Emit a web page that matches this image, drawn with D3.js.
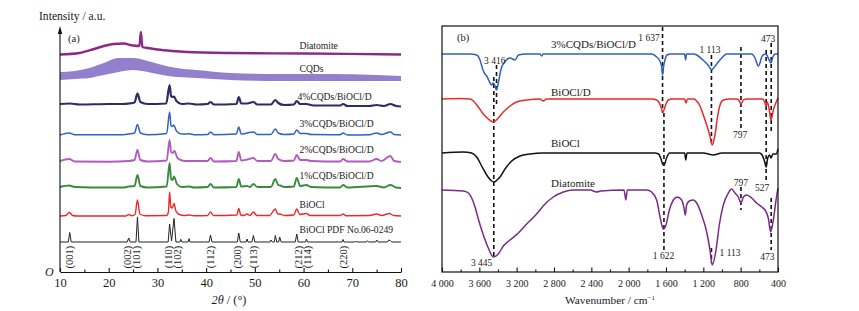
<!DOCTYPE html>
<html><head><meta charset="utf-8">
<script src="https://cdn.jsdelivr.net/npm/d3@7"></script>
<style>
body{margin:0;background:#fff}
svg{display:block}
text{font-family:"Liberation Serif","Times New Roman",serif;fill:#1a1a1a}
</style>
</head><body>
<svg id="c" width="859" height="311" font-family="Liberation Serif, serif"></svg>
<script>
// ---------------- XRD (panel a) data ----------------
const xrdTicks = [10, 20, 30, 40, 50, 60, 70, 80];
const xrdMinorTicks = [15, 25, 35, 45, 55, 65, 75];
const xrdNames = ["Diatomite", "CQDs", "4%CQDs/BiOCl/D", "3%CQDs/BiOCl/D", "2%CQDs/BiOCl/D", "1%CQDs/BiOCl/D", "BiOCl", "BiOCl PDF No.06-0249"];
const xrdOffsets = [218, 192, 165, 137, 110, 84, 56, 30];

const xrdDiatomite = [[10,-0.5],[14,1],[17,5],[19,8],[21,10],[23,10.5],[25,8.5],[26.3,8],[26.6,22],[26.9,7],[28,6],[30,4.5],[33,3],[36,2],[45,1],[60,0.5],[80,-0.5]];
const cqdsTheta = [10,13,16,19,22,25,28,31,34,38,45,55,65,75,80];
const cqdsUpper = [8,9,12,17,22,22,19,15,12,10,7,6,6,5,4];
const cqdsLower = [0,1,2,5,8,10,8,5,3,2,0,-1,-1,-1,-1];
const xrd4 = [[10,3],[12,3.5],[14,2.5],[20,3],[23,3],[24.1,3.5],[25.3,4.5],[25.9,13.5],[26.5,5],[28,3],[31.8,3.5],[32.5,22],[32.8,11],[33.1,10],[33.4,10.5],[33.9,6],[35,3],[36.5,3.5],[38,2.5],[40.3,3],[40.9,5],[41.6,2.5],[46.2,3],[46.7,10],[47.2,3.5],[48.4,3.5],[49.7,5],[50.5,2.5],[53.3,2.5],[54.2,7],[54.8,4],[56,2],[58,2.5],[58.6,6],[59.3,3],[60.6,3],[62,1.5],[67.5,1.5],[68.1,3],[69,1],[73.5,1],[75,2],[76.5,1],[77.8,3],[79,1],[80,0.5]];
const xrd3 = [[10,0],[11.9,2],[13,0.3],[23,0.3],[24.1,1],[25.3,2],[25.9,10.5],[26.5,2],[28,0.3],[31.9,1.5],[32.5,23],[32.8,9],[33.05,8.5],[33.35,10],[33.9,4],[35,1],[36.5,1.2],[37.5,0.3],[40.3,0.5],[40.9,3],[41.6,0.3],[46.2,1],[46.7,8],[47.2,1],[48.4,2],[49.7,3],[50.5,0.5],[53.3,0.5],[54.2,6],[54.8,2],[56,0.5],[58,1],[58.6,5],[59.3,1.5],[60.6,1.5],[61.5,0.5],[67.5,0.3],[68.1,2],[69,0],[73.5,0.3],[75,2],[76,0.5],[77.8,3],[78.6,0.5],[80,0]];
const xrd2 = [[10,1],[11.9,3],[13,0.5],[20,0.3],[24.1,1],[25.3,2],[25.9,12],[26.5,2],[28,0.5],[31.9,1.5],[32.5,22],[32.8,10],[33.1,9],[33.5,11],[34.1,4],[35.5,1],[36.5,1],[40.3,1],[40.9,4],[41.6,0.5],[46.2,1],[46.7,10],[47.2,1.5],[48.4,2.5],[49.7,4],[50.5,1],[53.3,1],[54.2,8],[54.8,3],[56,1],[58,1.5],[58.6,7],[59.3,2],[60.6,2],[61.5,1],[67.5,0.5],[68.1,3],[69,0.5],[73.5,0.5],[75,3],[76,1],[77.8,6],[78.6,1],[80,0]];
const xrd1 = [[10,1],[11.9,2.5],[13,1],[20,0.5],[23,0.5],[24.1,1.5],[25.3,2],[25.9,13],[26.5,2],[28,0.5],[31.9,1.5],[32.5,25],[32.8,9],[33.1,8],[33.4,11.5],[34,4],[35,1],[36.5,1.5],[37.5,0.5],[40.3,1],[40.9,4],[41.6,0.5],[46.2,1],[46.7,9],[47.2,1.5],[48.4,2],[49,1],[49.7,4],[50.5,1],[53.3,1],[54.2,9],[54.8,3],[55.2,2.5],[56,1],[58,1.5],[58.6,10],[59.3,2],[60.6,3],[61.5,1],[67.5,0.5],[68.1,3],[69,0.5],[75,2],[76.5,0.5],[77.8,3],[79,0.5],[80,0]];
const xrdBiOCl = [[10,0],[11.2,0.5],[11.9,3.5],[12.6,0.5],[13.5,0],[23.5,0],[24.1,1.5],[24.7,0.3],[25.4,1.5],[25.9,16],[26.4,2],[27.5,0.3],[31.9,0.5],[32.25,4],[32.5,24],[32.75,9],[33.05,8],[33.4,12.5],[33.8,5],[34.5,1.5],[35.5,0.5],[36.5,1],[37.5,0.3],[40.3,0.5],[40.9,4],[41.5,0.5],[46.3,1],[46.7,7.5],[47.1,1],[47.8,0.5],[48.4,2],[49.0,0.5],[49.7,4],[50.4,0.5],[53.0,0.5],[54.2,7],[54.7,2],[55.1,2],[56,0.5],[58.0,1],[58.6,7],[59.2,1.5],[60.6,2.5],[61.3,0.5],[67.5,0.5],[68.1,2],[68.7,0.3],[73.5,0.5],[75,2],[76,0.5],[77.6,2.5],[78.5,0.5],[80,0]];
const xrdPDF = [[10,0],[11.7,0],[12.0,9.5],[12.3,0],[23.8,0],[24.1,4],[24.4,0],[25.6,0],[25.9,25],[26.2,0],[32.2,0],[32.5,18],[32.9,1],[33.4,23.5],[33.8,0],[34.6,0],[34.8,2.7],[35.0,0],[36.3,0],[36.5,3.4],[36.7,0],[40.6,0],[40.9,7],[41.2,0],[46.4,0],[46.7,9],[47.0,0],[48.2,0],[48.4,3],[48.6,0],[49.4,0],[49.7,6.5],[50.0,0],[53.1,0],[53.3,2],[53.6,0],[54.0,0],[54.2,6.5],[54.5,0],[54.9,0],[55.1,5],[55.4,0],[58.3,0],[58.6,8],[58.9,0],[60.4,0],[60.6,3],[60.8,0],[67.9,0],[68.1,2.5],[68.3,0],[70.5,0],[70.7,1],[70.9,0],[72.8,0],[73.1,1],[73.4,0],[74.8,0],[75.0,2],[75.3,0],[77.2,0],[77.5,2],[77.8,1.5],[78.1,0],[80,0]];
const hklLabels = ["(001)","(002)","(101)","(110)","(102)","(112)","(200)","(113)","(212)","(114)","(220)"];
const hklPos = [12.0, 23.9, 25.8, 32.3, 34.1, 40.9, 46.4, 49.7, 59.0, 60.9, 68.2];

// ---------------- FTIR (panel b) data ----------------
const ftirTicks = [4000, 3600, 3200, 2800, 2400, 2000, 1600, 1200, 800, 400];
const ftirMinorTicks = [3800, 3400, 3000, 2600, 2200, 1800, 1400, 1000, 600];
const ftirNames = ["3%CQDs/BiOCl/D", "BiOCl/D", "BiOCl", "Diatomite"];
const ftirOffsets = [218, 173, 119, 82];
const ftir3 = [[4000,0],[3700,0],[3628,-1],[3593,-6],[3561,-16],[3540,-20],[3521,-22],[3500,-26],[3470,-31],[3450,-29],[3432,-32],[3416,-36],[3395,-28],[3370,-16],[3330,-8],[3270,-4],[3218,-6],[3180,-1],[3100,0],[2950,0],[2932,-2],[2915,0],[1800,0],[1753,0],[1700,-3],[1660,-8],[1646,-13],[1637,-21],[1625,-12],[1611,-6],[1589,-1],[1550,0],[1400,0],[1390,-6],[1380,0],[1300,0],[1271,-1],[1204,-6],[1160,-10],[1129,-14],[1113,-16],[1090,-14],[1057,-10],[1003,-4],[950,0],[700,0],[682,0],[646,-4],[611,-12],[590,-8],[575,-3],[539,0],[520,-1],[504,-4],[478,-9],[450,-2],[430,0],[400,0]];
const ftirBiOClD = [[4000,0],[3800,0.5],[3700,0],[3664,-2],[3611,-8],[3557,-15],[3504,-20],[3450,-23],[3397,-19],[3343,-13],[3271,-7],[3200,-3],[3093,-1],[2950,0],[2915,-2],[2880,0],[1750,0],[1700,-1],[1657,-7],[1635,-13],[1600,-5],[1575,-1],[1540,0],[1400,0],[1386,-4],[1370,0],[1300,0],[1271,-2],[1236,-7],[1200,-16],[1164,-26],[1129,-37],[1105,-46],[1075,-36],[1050,-19],[1021,-6],[986,-1],[914,0],[840,0],[814,-2],[797,-5],[771,-1],[740,0],[560,0],[540,-4],[527,-7],[514,-3],[493,-11],[475,-21],[450,-11],[414,-2],[400,1]];
const ftirBiOCl = [[4000,0],[3775,1],[3682,0],[3628,-4],[3575,-13],[3521,-22],[3468,-28],[3440,-29],[3400,-26],[3379,-24],[3325,-16],[3253,-8],[3164,-3],[3057,-1],[2915,0],[1720,0],[1680,-1],[1657,-5],[1630,-12],[1621,-12],[1590,-4],[1560,0],[1400,0],[1388,-7],[1375,0],[1200,0],[1093,-2],[1000,0],[600,0],[570,-2],[545,-8],[527,-14],[510,-5],[490,-2],[475,-5],[455,-1],[420,-1],[400,4]];
const ftirDiatomite = [[4000,0],[3771,-1],[3718,-3],[3682,-8],[3646,-17],[3611,-29],[3557,-45],[3504,-58],[3450,-67],[3397,-64],[3343,-56],[3271,-50],[3182,-43],[3093,-34],[2986,-24],[2896,-14],[2807,-7],[2700,-2],[2593,0],[2414,0],[2343,-2],[2300,-1],[2050,0],[2030,-10],[2015,0],[1807,0],[1754,-2],[1700,-10],[1657,-30],[1629,-39],[1600,-35],[1564,-20],[1521,-10],[1479,-7],[1432,-10],[1407,-18],[1393,-25],[1379,-15],[1350,-11],[1307,-10],[1271,-13],[1218,-25],[1164,-42],[1129,-60],[1105,-75],[1064,-60],[1029,-35],[986,-15],[932,-3],[896,1],[861,-3],[825,-7],[797,-13],[771,-7],[736,-5],[682,-8],[629,-13],[575,-17],[539,-20],[504,-28],[479,-42],[450,-30],[421,-10],[400,2]];
const annotText = ["3 416","1 637","1 113","473","797","797","527","3 445","1 622","1 113","473"];
const annotWn = [3435, 1782, 1129, 507, 807, 797, 571, 3575, 1627, 914, 513];
const annotV = [208, 231.5, 219.5, 230.5, 134, 86, 81, 6, 13, 16, 12];
const dashWn = [3445, 3416, 1637, 1622, 1113, 1113, 797, 797, 527, 473, 473];
const dashTop = [195, 207, 245, 159, 217, 24, 225, 85, 222, 229, 74];
const dashBottom = [15, 165, 159, 22, 127, 9, 142, 62, 90, 139, 22];

// ---------------- styles ----------------
const xrdColors = ["#8a2a86", "#6a4fb8", "#2c2d68", "#2f62c0", "#b05cbf", "#3a8a3c", "#ea2a2a", "#222222"];
const xrdWidths = [2.4, 0, 2.2, 1.5, 1.9, 1.9, 1.4, 1.0];
const xrdLabelDy = [5, 8, 7, 8, 9, 9, 8, 9];
const ftirColors = ["#2f60c0", "#ea2a2a", "#111111", "#7a2a88"];
const ftirLabelDy = [6, 3, 6, 3];
const serif = '"Liberation Serif","Times New Roman",serif';

const svg = d3.select("#c");
const xL = d3.scaleLinear().domain([10, 80]).range([60, 401]);
const yL = d3.scaleLinear().domain([0, 245]).range([272, 27]);
const xR = d3.scaleLinear().domain([4000, 400]).range([442, 778]);
const yR = d3.scaleLinear().domain([0, 246]).range([272, 26]);

// ---------- panel a ----------
const gA = svg.append("g");
const xrdData = [xrdDiatomite, null, xrd4, xrd3, xrd2, xrd1, xrdBiOCl, xrdPDF];
// CQDs noise band
const cqdsBand = cqdsTheta.map((t, i) => ({t, u: cqdsUpper[i], l: cqdsLower[i]}));
gA.append("path").datum(cqdsBand)
  .attr("d", d3.area().x(d => xL(d.t)).y0(d => yL(xrdOffsets[1] + d.l)).y1(d => yL(xrdOffsets[1] + d.u)).curve(d3.curveMonotoneX))
  .attr("fill", xrdColors[1]).attr("fill-opacity", 0.72);
xrdData.forEach((data, i) => {
  if (!data) return;
  const line = d3.line().x(d => xL(d[0])).y(d => yL(xrdOffsets[i] + d[1]))
    .curve(i === 7 ? d3.curveLinear : d3.curveMonotoneX);
  gA.append("path").datum(data).attr("d", line)
    .attr("fill", "none").attr("stroke", xrdColors[i]).attr("stroke-width", xrdWidths[i])
    .attr("stroke-linejoin", "round");
});
xrdNames.forEach((n, i) => {
  gA.append("text").attr("x", i === 2 ? 297.5 : 299.5).attr("y", yL(xrdOffsets[i]) - xrdLabelDy[i])
    .attr("font-size", 9.6).text(n);
});
hklLabels.forEach((h, i) => {
  gA.append("text").attr("transform", `translate(${xL(hklPos[i]) + 3.5},257) rotate(-90)`)
    .attr("text-anchor", "middle").attr("font-size", 10.5).text(h);
});
// axes
const axA = gA.append("g").attr("transform", "translate(0,272)")
  .call(d3.axisBottom(xL).tickValues(xrdTicks).tickSizeInner(-4).tickSizeOuter(0).tickPadding(6.5));
axA.attr("font-family", serif).attr("font-size", 12.5);
axA.selectAll("text").style("fill", "#1a1a1a");
axA.selectAll("line,path").attr("stroke", "#111").attr("stroke-width", 1.1);
const axAm = gA.append("g").attr("transform", "translate(0,272)")
  .call(d3.axisBottom(xL).tickValues(xrdMinorTicks).tickSize(-2.5).tickFormat(""));
axAm.select(".domain").remove();
axAm.selectAll("line").attr("stroke", "#111").attr("stroke-width", 1.1);
gA.append("line").attr("x1", 60).attr("x2", 60).attr("y1", 272).attr("y2", 32)
  .attr("stroke", "#111").attr("stroke-width", 1.1);
gA.append("path").attr("d", "M60,26 L57.8,34 L62.2,34 Z").attr("fill", "#111");
gA.append("text").attr("x", 39).attr("y", 20).attr("font-size", 11.6).text("Intensity / a.u.");
gA.append("text").attr("x", 45).attr("y", 276).attr("font-size", 12).attr("font-style", "italic").text("O");
gA.append("text").attr("x", 68).attr("y", 42).attr("font-size", 10.5).text("(a)");
const xt = gA.append("text").attr("x", 229).attr("y", 304).attr("text-anchor", "middle").attr("font-size", 12.3);
xt.append("tspan").attr("font-style", "italic").text("2θ");
xt.append("tspan").text(" / (°)");

// ---------- panel b ----------
const gB = svg.append("g");
const ftirData = [ftir3, ftirBiOClD, ftirBiOCl, ftirDiatomite];
dashWn.forEach((w, i) => {
  gB.append("line").attr("x1", xR(w)).attr("x2", xR(w))
    .attr("y1", yR(dashTop[i])).attr("y2", yR(dashBottom[i]))
    .attr("stroke", "#111").attr("stroke-width", 1.6).attr("stroke-dasharray", "4,3");
});
ftirData.forEach((data, i) => {
  const line = d3.line().x(d => xR(d[0])).y(d => yR(ftirOffsets[i] + d[1])).curve(d3.curveMonotoneX);
  gB.append("path").datum(data).attr("d", line)
    .attr("fill", "none").attr("stroke", ftirColors[i]).attr("stroke-width", 1.5);
});
ftirNames.forEach((n, i) => {
  gB.append("text").attr("x", 551).attr("y", yR(ftirOffsets[i]) - ftirLabelDy[i])
    .attr("font-size", 11).text(n);
});
annotText.forEach((t, i) => {
  gB.append("text").attr("x", xR(annotWn[i])).attr("y", yR(annotV[i]))
    .attr("text-anchor", "middle").attr("font-size", 9.5).text(t);
});
gB.append("rect").attr("x", 442).attr("y", 26).attr("width", 336).attr("height", 246)
  .attr("fill", "none").attr("stroke", "#111").attr("stroke-width", 1.2);
const fmt = d => d >= 1000 ? Math.floor(d / 1000) + " " + String(d % 1000).padStart(3, "0") : String(d);
const axB = gB.append("g").attr("transform", "translate(0,272)")
  .call(d3.axisBottom(xR).tickValues(ftirTicks).tickFormat(fmt).tickSizeInner(-4.5).tickSizeOuter(0).tickPadding(8));
axB.select(".domain").remove();
axB.attr("font-family", serif).attr("font-size", 10);
axB.selectAll("text").style("fill", "#1a1a1a");
axB.selectAll("line").attr("stroke", "#111").attr("stroke-width", 1.1);
const axBm = gB.append("g").attr("transform", "translate(0,272)")
  .call(d3.axisBottom(xR).tickValues(ftirMinorTicks).tickSize(-2.5).tickFormat(""));
axBm.select(".domain").remove();
axBm.selectAll("line").attr("stroke", "#111").attr("stroke-width", 1.1);
gB.append("text").attr("x", 457).attr("y", 41).attr("font-size", 10.5).text("(b)");
const wt = gB.append("text").attr("x", 610).attr("y", 304).attr("text-anchor", "middle").attr("font-size", 11.3);
wt.append("tspan").text("Wavenumber / cm");
wt.append("tspan").attr("dy", -4.5).attr("font-size", 7).text("−1");
</script>
</body></html>
